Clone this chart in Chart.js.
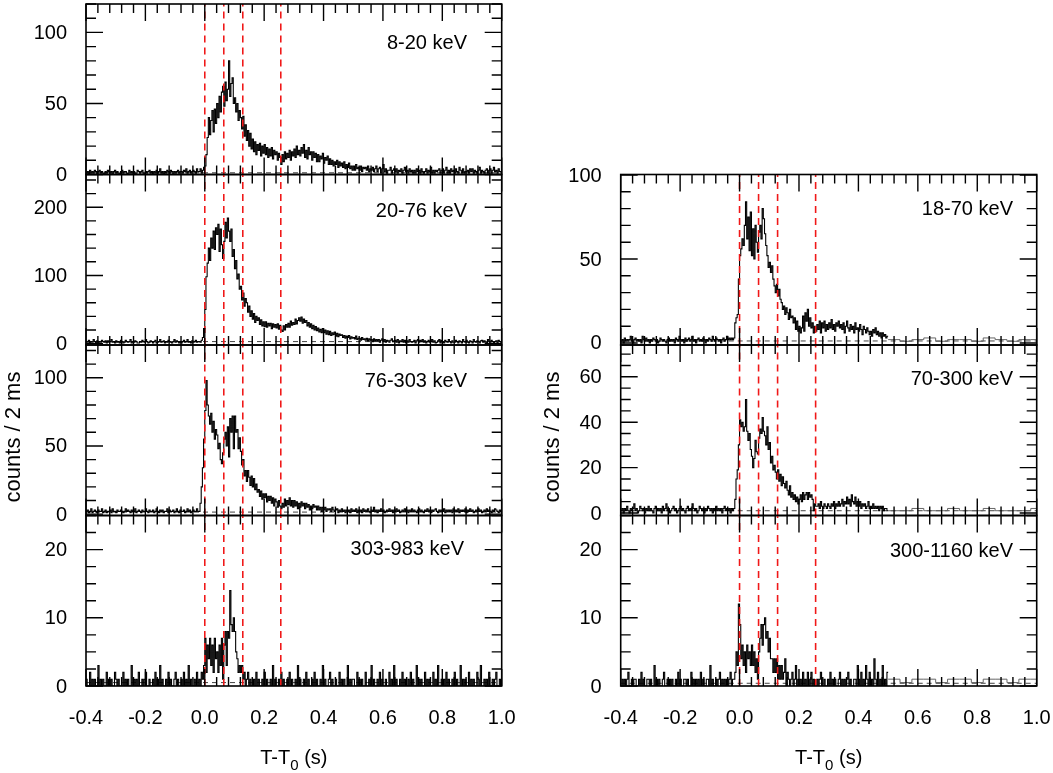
<!DOCTYPE html>
<html><head><meta charset="utf-8">
<script src="https://cdn.jsdelivr.net/npm/chart.js@4.4.1/dist/chart.umd.min.js"></script>
<style>
html,body{margin:0;padding:0;background:#fff;}
#wrap{position:relative;width:1053px;height:773px;overflow:hidden;background:#fff;}
#wrap canvas{position:absolute;left:0;top:0;}
</style></head><body><div id="wrap"></div>
<script>
// ================= DATA (counts / 2 ms) =================
const xTickLabels = ['-0.4','-0.2','0.0','0.2','0.4','0.6','0.8','1.0'];
const intervalEdges = [0, 0.064, 0.128, 0.256];
const bandLabels = ['8-20 keV','20-76 keV','76-303 keV','303-983 keV','18-70 keV','70-300 keV','300-1160 keV'];
const yTickLabels = [[0,50,100],[0,100,200],[0,50,100],[0,10,20],[0,50,100],[0,20,40,60],[0,10,20]];
const bgLevels = [1.2, 3, 1.5, 0.5, 1.2, 1.0, 0.4];

// ---- 8-20 keV (4 ms bins) ----
const p1Pre = [1,2,0,3,1, 2,1,3,2,0, 2,3,1,2,1, 0,2,1,3,2, 1,2,0,2,3, 1,2,1,0,2, 3,1,2,2,1, 0,3,1,2,1, 2,0,1,3,2, 1,2,3,1,0, 2,1,2,3,1, 2,0,2,1,3, 1,2,4,1,2, 0,2,1,3,2, 1,3,2,0,2, 1,2,3,1,2, 2,1,3,2,4, 1,2,3,1,2, 3,2,1,4,2];
const p1Burst = [2,4,1,3,5, 6,14,26,40,28, 38,45,30,46,36, 50,40,55,44,58, 62,48,65,52,60, 80,55,64,68,50, 54,44,50,38,45, 40,32,41,27,35, 24,31,20,29,18, 25,16,23,14,21, 17,22,13,20,15, 21,14,19,12,18, 13,19,11,17,14, 16,10,15,12,7, 14,9,16,11,15, 12,17,10,16,13, 18,12,20,14,17, 13,19,15,21,12, 17,11,19,14,16, 10,16,12,15,9, 14,9,13,11,15, 8,12,10,13,7, 11,7,10,6,9, 7,10,5,9,6, 8,5,9,4,7, 5,8,4,6,3];
const p1Tail = [6,3,7,4,5, 3,6,2,5,4, 5,3,6,2,4, 3,5,2,4,6, 2,4,5,1,4, 7,2,4,1,3, 3,5,1,3,4, 2,4,1,3,2, 4,1,3,5,2, 3,1,4,2,3, 1,3,1,4,2, 3,1,4,2,1, 2,4,1,3,2, 5,1,3,1,3, 2,3,4,1,3, 4,1,3,5,1, 3,1,4,2,3, 1,4,2,1,5, 3,1,4,1,2, 2,3,1,4,2, 4,1,3,2,1, 3,5,1,3,2, 1,3,4,1,3, 4,1,3,5,2, 3,1,4,2,2];

// ---- 20-76 keV ----
const p2Pre = [3,2,5,1,3, 2,6,3,1,4, 1,3,2,5,3, 2,4,1,4,2, 3,6,2,3,1, 4,2,3,1,5, 3,1,2,5,3, 2,3,6,1,3, 2,4,3,1,1, 3,2,5,3,2, 6,3,1,2,4, 3,1,3,5,1, 2,3,6,2,3, 4,1,3,2,5, 3,2,1,3,6, 2,4,3,1,3, 1,3,5,2,3, 6,2,3,1,4, 2,3,5,2,3];
const p2Burst = [3,2,5,9,22, 50,98,118,140,122, 155,140,165,138,170, 160,175,135,168,145, 125,150,178,155,184, 165,150,168,128,138, 110,122,95,102,80, 84,64,74,55,66, 60,46,55,40,48, 36,44,31,40,34, 38,28,35,26,32, 25,32,24,30,26, 30,22,29,24,28, 23,29,21,27,20, 18,26,20,28,24, 30,24,33,27,31, 28,36,29,34,38, 33,39,30,36,31, 34,26,31,24,29, 22,27,20,25,19, 23,17,21,16,22, 16,20,14,19,13, 18,12,16,13,17, 11,15,10,14,12, 13,9,12,8,11, 9,12,7,10,8];
const p2Tail = [9,7,11,6,8, 8,5,9,6,7, 5,8,4,7,5, 6,3,7,4,6, 4,6,2,5,7, 3,6,2,5,4, 2,5,7,3,4, 5,2,6,1,4, 3,6,2,5,1, 4,2,6,3,2, 3,5,1,4,6, 2,5,3,6,2, 4,1,3,5,2, 3,6,2,4,1, 2,4,6,1,5, 3,1,5,3,2, 6,3,1,4,2, 2,5,3,1,4, 3,1,6,3,2, 5,2,1,4,3, 1,6,3,2,4, 3,1,4,5,2, 4,2,1,6,3, 2,5,3,1,3, 4,1,5,3,2];

// ---- 76-303 keV ----
const p3Pre = [2,3,1,2,4, 1,2,3,2,1, 3,2,2,4,1, 2,3,1,2,2, 3,1,4,2,2, 1,3,2,2,3, 2,1,2,4,2, 3,2,1,3,2, 2,4,1,2,3, 2,1,3,2,2, 4,2,1,3,2, 2,3,1,2,4, 2,1,3,2,3, 1,2,2,4,1, 3,2,2,3,1, 2,4,2,1,3, 2,2,3,1,2, 4,2,3,1,2, 3,2,2,4,2];
const p3Burst = [2,8,20,34,55, 76,98,80,72,66, 74,60,68,55,62, 58,48,52,40,37, 45,55,60,50,64, 42,70,60,72,48, 72,60,62,48,56, 46,36,40,28,32, 24,32,27,21,28, 20,26,18,22,16, 18,13,17,11,15, 12,15,9,13,10, 13,8,12,6,11, 9,5,10,6,4, 8,5,11,6,10, 7,12,6,10,5, 10,6,9,4,8, 5,9,6,8,4, 8,5,7,3,6, 4,7,5,6,3, 6,3,5,2,5, 3,5,2,4,3, 4,2,5,3,2, 3,4,1,3,2, 4,2,3,1,3, 2,3,1,4,2];
const p3Tail = [3,2,4,1,3, 2,3,1,4,2, 3,2,4,2,1, 3,2,5,2,3, 1,3,2,4,2, 3,1,2,3,2, 4,2,3,1,3, 2,4,2,3,1, 2,3,2,4,2, 3,1,3,2,4, 2,3,2,1,3, 4,2,3,2,1, 3,2,4,2,3, 1,3,2,3,4, 2,1,3,2,3, 2,4,1,3,2, 3,2,3,1,4, 2,3,2,4,1, 3,2,3,2,4, 1,3,2,4,2, 3,1,2,3,2, 4,2,3,1,2, 3,2,4,2,3, 2,1,3,2,4, 3,2,1,3,2];

// ---- 303-983 keV ----
const p4Pre = [1,0,0,2,0, 1,0,1,0,0, 3,0,1,0,1, 0,0,2,0,1, 0,1,0,0,2, 1,0,1,0,0, 0,2,0,1,0, 1,0,0,3,0, 1,0,1,0,2, 0,0,1,0,1, 2,0,0,1,0, 0,1,0,2,0, 1,0,3,0,1, 0,0,1,0,2, 0,1,0,0,1, 2,0,1,0,0, 1,0,2,0,1, 0,3,0,1,0, 0,1,0,2,0];
const p4Burst = [1,0,2,1,3, 7,2,6,4,7, 3,6,2,7,4, 5,2,6,3,7, 1,6,8,3,8, 7,14,9,8,10, 8,5,4,2,3, 2,3,1,2,0, 1,2,0,1,0, 0,1,0,2,0, 1,0,0,1,0, 2,0,1,0,0, 1,0,3,0,1, 0,0,1,0,2, 0,1,0,0,1, 0,2,0,1,0, 0,1,0,3,0, 1,0,0,1,0, 2,0,1,0,0, 1,0,2,0,1, 0,0,1,0,3, 0,1,0,0,1, 2,0,1,0,0, 1,0,0,2,0, 1,0,1,0,0, 3,0,1,0,1];
const p4Tail = [1,0,0,2,0, 1,0,1,0,0, 2,0,0,1,0, 3,0,1,0,0, 1,0,2,0,1, 0,0,1,0,0, 2,0,1,0,3, 0,1,0,0,1, 0,2,0,1,0, 0,1,0,2,0, 1,0,0,3,0, 1,0,1,0,0, 2,0,1,0,1, 0,0,2,0,1, 0,3,0,0,1, 0,1,0,2,0, 1,0,0,1,0, 2,0,1,0,0, 3,0,1,0,1, 0,0,2,0,1, 0,1,0,0,2, 1,0,3,0,0, 1,0,1,0,2, 0,0,1,0,1, 2,0,0,1,0];

// ---- 18-70 keV (right) ----
const r1Pre = [1,2,0,3,1, 2,1,2,4,1, 0,2,3,1,2, 1,2,0,4,2, 1,3,1,2,0, 2,1,3,2,1, 2,0,1,3,2, 1,2,1,0,2, 3,1,2,1,2, 0,3,2,1,4, 2,1,2,0,3, 1,2,3,1,2, 4,1,2,0,2, 3,1,2,1,3, 2,0,2,1,3, 2,1,4,2,1, 3,2,1,2,0, 2,3,1,2,4, 2,3,2,3,2];
const r1Burst = [3,12,15,17,38, 52,56,62,58,70, 84,62,75,55,78, 52,68,50,70,60, 54,66,70,62,80, 74,65,58,52,45, 48,42,46,38,34, 30,35,28,32,26, 24,20,22,17,21, 18,14,20,15,16, 12,15,8,13,7, 10,6,9,16,7, 18,13,20,10,15, 9,12,6,10,7, 11,8,13,6,12, 9,13,7,11,8, 12,9,14,8,11, 7,12,10,13,9, 11,8,12,6,10, 13,9,7,11,8, 10,6,12,8,9, 7,11,8,5,10, 8,6,9,7,5, 7,4,8,6,9, 5,7,4,6,3, 6,4,5,3,4];
const r1Coarse = [2,1,2,3,1,2,2,1,3,2,1,2,2];

// ---- 70-300 keV (right) ----
const r2Pre = [1,2,0,2,1, 3,1,0,2,1, 2,4,1,2,0, 1,3,2,1,2, 0,2,1,3,1, 2,1,0,2,3, 1,2,1,2,0, 3,1,2,4,1, 2,0,1,2,3, 1,2,0,1,2, 3,1,2,1,0, 2,3,1,2,1, 4,2,1,2,0, 1,3,2,1,2, 0,2,1,3,2, 1,2,0,2,1, 3,1,2,1,2, 0,2,3,1,2, 1,2,0,2,1];
const r2Burst = [2,6,15,19,30, 41,38,40,36,38, 50,36,32,35,28, 25,20,24,32,27, 26,33,37,35,42, 36,34,30,38,28, 31,22,25,19,21, 18,15,19,14,17, 12,16,13,11,14, 10,8,12,7,9, 6,8,5,7,4, 6,8,5,9,6, 8,9,6,9,7, 8,6,1,4,3, 3,4,2,5,3, 2,4,3,2,4, 3,2,4,3,5, 2,4,3,5,3, 4,6,3,5,4, 7,4,6,3,8, 5,4,7,3,5, 3,5,2,4,3, 4,2,3,5,2, 3,2,4,2,3, 2,3,1,3,2, 3,1,2,2,1];
const r2Coarse = [1,1,2,1,1,2,1,1,2,1,1,1,2];

// ---- 300-1160 keV (right) ----
const r4Pre = [0,1,0,1,0, 1,2,0,0,1, 0,1,1,0,0, 1,0,2,0,1, 0,0,1,1,0, 1,0,0,3,0, 1,0,1,0,0, 1,2,0,0,1, 0,1,0,1,0, 0,1,0,2,0, 1,0,0,1,1, 0,1,0,0,2, 0,1,0,1,0, 1,0,2,0,1, 0,0,1,1,0, 3,0,1,0,0, 1,0,1,2,0, 1,0,1,0,1, 0,1,2,0,1];
const r4Burst = [1,2,5,3,12, 9,4,6,3,5, 2,6,4,5,3, 6,3,5,2,4, 1,5,7,9,6, 9,10,7,8,5, 7,4,4,2,4, 2,4,1,3,1, 3,1,2,4,0, 2,1,0,1,2, 0,1,3,0,1, 0,1,0,2,0, 1,0,2,0,1, 2,0,1,0,0, 1,0,1,2,0, 0,1,0,0,1, 0,2,0,1,0, 1,0,0,1,2, 0,1,0,1,0, 1,2,0,1,0, 0,1,1,0,3, 1,0,2,0,1, 0,3,1,0,2, 0,1,0,4,1, 0,2,0,1,0, 3,0,1,0,2];
const r4Coarse = [1,0.5,1,1,0.5,1,1,0.5,1,1,0.5,1,1];

// ================= LAYOUT =================
const W = 1053, H = 773;
const L = {left: 86, right: 501.7}, R = {left: 620.7, right: 1036.7};
const rows = [4, 174.5, 345, 515.5, 686];
const panels = [
  {col:L, row:0, ymin:0,    ymax:120,  major:50, minor:10,  pre:p1Pre, burst:p1Burst, tail:p1Tail, lx:467, ly:42.5},
  {col:L, row:1, ymin:-2,   ymax:248,  major:100,minor:20,  pre:p2Pre, burst:p2Burst, tail:p2Tail, lx:467, ly:210},
  {col:L, row:2, ymin:-1,   ymax:124,  major:50, minor:10,  pre:p3Pre, burst:p3Burst, tail:p3Tail, lx:467, ly:380},
  {col:L, row:3, ymin:0,    ymax:25,   major:10, minor:2.5, pre:p4Pre, burst:p4Burst, tail:p4Tail, lx:464, ly:548, bottomAxis:true},
  {col:R, row:1, ymin:-1.2, ymax:100.3,major:50, minor:10,  pre:r1Pre, burst:r1Burst, coarse:r1Coarse, lx:1013, ly:208.5},
  {col:R, row:2, ymin:-1.1, ymax:74,   major:20, minor:5,   pre:r2Pre, burst:r2Burst, coarse:r2Coarse, lx:1013, ly:378},
  {col:R, row:3, ymin:0,    ymax:25,   major:10, minor:2.5, pre:r4Pre, burst:r4Burst, coarse:r4Coarse, lx:1013, ly:550.5, bottomAxis:true}
];
const FONT = '20px "Liberation Sans", Arial, Helvetica, sans-serif';
const SUBFONT = '15px "Liberation Sans", Arial, Helvetica, sans-serif';
const YTITLEFONT = '22px "Liberation Sans", Arial, Helvetica, sans-serif';

function seg(start, dt, vals, stop) {
  const pts = [];
  for (let i = 0; i < vals.length; i++) {
    const t = start + i * dt;
    if (t >= stop - 1e-9) break;
    pts.push({x: +t.toFixed(4), y: vals[i]});
  }
  return pts;
}

function makePlugin(P, idx) {
  return {
    id: 'frame' + idx,
    afterDatasetsDraw(chart) {
      const ctx = chart.ctx, ca = chart.chartArea, xs = chart.scales.x, ys = chart.scales.y;
      ctx.save();
      ctx.strokeStyle = '#000';
      ctx.lineWidth = 1.4;
      ctx.beginPath();
      for (let k = 0; k <= 35; k++) {
        const px = xs.getPixelForValue(-0.4 + k * 0.04);
        const len = (k % 5 === 0) ? 17 : 9;
        ctx.moveTo(px, ca.bottom); ctx.lineTo(px, ca.bottom - len);
        ctx.moveTo(px, ca.top); ctx.lineTo(px, ca.top + len);
      }
      const k0 = Math.ceil(P.ymin / P.minor - 1e-9), k1 = Math.floor(P.ymax / P.minor + 1e-9);
      for (let k = k0; k <= k1; k++) {
        const v = k * P.minor;
        const py = ys.getPixelForValue(v);
        const maj = Math.abs(v / P.major - Math.round(v / P.major)) < 1e-6;
        const len = maj ? 17 : 10;
        ctx.moveTo(ca.left, py); ctx.lineTo(ca.left + len, py);
        ctx.moveTo(ca.right, py); ctx.lineTo(ca.right - len, py);
      }
      ctx.stroke();
      ctx.lineWidth = 1.6;
      ctx.strokeRect(ca.left, ca.top, ca.right - ca.left, ca.bottom - ca.top);

      ctx.fillStyle = '#000';
      ctx.font = FONT;
      ctx.textAlign = 'right';
      ctx.textBaseline = 'middle';
      yTickLabels[idx].forEach(v => ctx.fillText(String(v), ca.left - 19, ys.getPixelForValue(v) + 1));
      ctx.fillText(bandLabels[idx], P.lx, P.ly + 1);

      if (P.bottomAxis) {
        ctx.textAlign = 'center';
        xTickLabels.forEach(s => ctx.fillText(s, xs.getPixelForValue(parseFloat(s)), 718));
        const a = 'T-T', b = '0', c = ' (s)';
        ctx.font = FONT; const wa = ctx.measureText(a).width, wc = ctx.measureText(c).width;
        ctx.font = SUBFONT; const wb = ctx.measureText(b).width;
        const cx = (ca.left + ca.right) / 2, tot = wa + wb + wc;
        const x0 = cx - tot / 2;
        ctx.textAlign = 'left'; ctx.textBaseline = 'alphabetic';
        ctx.font = FONT; ctx.fillText(a, x0, 764);
        ctx.font = SUBFONT; ctx.fillText(b, x0 + wa, 770);
        ctx.font = FONT; ctx.fillText(c, x0 + wa + wb, 764);
        ctx.save();
        ctx.translate(P.col === L ? 14 : 553, 437);
        ctx.rotate(-Math.PI / 2);
        ctx.font = YTITLEFONT;
        ctx.textAlign = 'center'; ctx.textBaseline = 'middle';
        ctx.fillText('counts / 2 ms', 0, 0);
        ctx.restore();
      }
      ctx.restore();
    }
  };
}

const wrap = document.getElementById('wrap');
panels.forEach((P, idx) => {
  const cv = document.createElement('canvas');
  cv.width = W; cv.height = H;
  cv.style.width = W + 'px'; cv.style.height = H + 'px';
  wrap.appendChild(cv);
  const top = rows[P.row], bottom = rows[P.row + 1];

  let main;
  let gray = [];
  if (P.tail) {
    main = seg(-0.4, 0.004, P.pre, -0.02).concat(seg(-0.02, 0.004, P.burst, 0.5), seg(0.5, 0.004, P.tail, 1.0));
    main.push({x: 1.0, y: main[main.length - 1].y});
  } else {
    main = seg(-0.4, 0.004, P.pre, -0.02).concat(seg(-0.02, 0.004, P.burst, 0.5));
    main.push({x: 0.5, y: main[main.length - 1].y});
    gray = seg(0.5, 0.04, P.coarse, 1.0);
    gray.push({x: 1.0, y: gray[gray.length - 1].y});
  }

  const datasets = [];
  intervalEdges.forEach(e => datasets.push({
    data: [{x: e, y: P.ymin}, {x: e, y: P.ymax}],
    borderColor: '#f01818', borderWidth: 1.6, borderDash: [7, 5], pointRadius: 0, order: 0
  }));
  datasets.push({data: main, borderColor: '#000', borderWidth: 1.1, stepped: 'before', pointRadius: 0, order: 1});
  if (gray.length) datasets.push({data: gray, borderColor: '#666', borderWidth: 1, stepped: 'before', pointRadius: 0, order: 2});
  datasets.push({data: [{x: -0.4, y: bgLevels[idx]}, {x: 1.0, y: bgLevels[idx]}], borderColor: '#444', borderWidth: 1, borderDash: [5, 4], pointRadius: 0, order: 3});

  new Chart(cv, {
    type: 'line',
    data: {datasets},
    options: {
      responsive: false, animation: false, events: [],
      devicePixelRatio: 1,
      layout: {padding: {left: P.col.left, right: W - P.col.right, top: top, bottom: H - bottom}},
      scales: {
        x: {type: 'linear', min: -0.4, max: 1.0, display: false},
        y: {type: 'linear', min: P.ymin, max: P.ymax, display: false}
      },
      plugins: {legend: {display: false}, tooltip: {enabled: false}}
    },
    plugins: [makePlugin(P, idx)]
  });
});
</script></body></html>
